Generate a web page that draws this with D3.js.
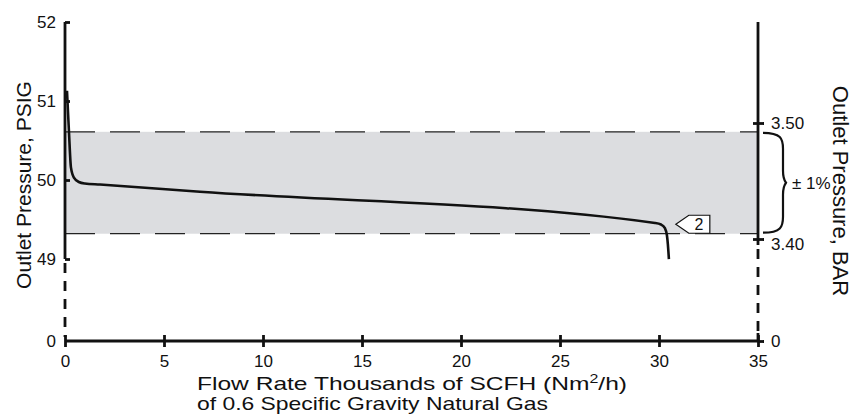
<!DOCTYPE html>
<html>
<head>
<meta charset="utf-8">
<script src="https://cdn.jsdelivr.net/npm/d3@7"></script>
<style>
  body { margin: 0; background: #fff; }
  text { font-family: "Liberation Sans", Arial, sans-serif; fill: #111; }
</style>
</head>
<body>
<script>
var w = 853;
var h = 419;

// curve
var flow = [0.10, 0.20, 0.30, 0.45, 0.7, 1.0, 1.77, 6.82, 29.8, 30.1, 30.3, 30.4, 30.45, 30.5];
var psi = [51.13, 50.61, 50.16, 50.03, 49.975, 49.956, 49.943, 49.852, 49.456, 49.437, 49.39, 49.30, 49.18, 48.97];

var xTicks = [0, 5, 10, 15, 20, 25, 30, 35];
var psiTicks = [0, 49, 50, 51, 52];
var barTicks = [0, 3.40, 3.50];
var band = [49.32, 50.61]; // +/- 1% band, psig

var svg = d3.select('body').append('svg').attr('width', w).attr('height', h);

var x = d3.scaleLinear().domain([0, 35]).range([65, 758]);
// broken axes: 0 sits below the dashed break
var y = d3.scaleLinear().domain([0, 49, 52]).range([341, 259, 22]);
var yBar = d3.scaleLinear().domain([0, 3.40, 3.50]).range([341, 239, 123]);

// grey band
svg.append('rect')
  .attr('x', x(0))
  .attr('y', y(band[1]))
  .attr('width', x(35) - x(0))
  .attr('height', y(band[0]) - y(band[1]))
  .attr('fill', '#dcdde0');

svg.selectAll('line.band')
  .data(band)
  .enter()
  .append('line')
  .attr('class', 'band')
  .attr('x1', x(0)).attr('x2', x(35))
  .attr('y1', function(d) { return y(d); })
  .attr('y2', function(d) { return y(d); })
  .attr('stroke', '#222')
  .attr('stroke-width', 1.3)
  .attr('stroke-dasharray', '30,15');

function axisLine(xp, y0, y1, dashed) {
  svg.append('line')
    .attr('x1', xp).attr('x2', xp)
    .attr('y1', y0).attr('y2', y1)
    .attr('stroke', '#111')
    .attr('stroke-width', 2.8)
    .attr('stroke-dasharray', dashed ? '10,8' : null);
}

// left axis
axisLine(x(0), y(52), y(49), false);
axisLine(x(0), y(49) + 4, y(0) - 4, true);
// right axis
axisLine(x(35), y(52), yBar(3.40) + 6, false);
axisLine(x(35), yBar(3.40) + 10, yBar(0) - 8, true);
axisLine(x(35), yBar(0) - 8, yBar(0), false);

// x axis
svg.append('line')
  .attr('x1', x(0)).attr('x2', x(35))
  .attr('y1', y(0)).attr('y2', y(0))
  .attr('stroke', '#111').attr('stroke-width', 2.8);

var xAxis = svg.append('g')
  .attr('transform', 'translate(0,' + y(0) + ')')
  .call(d3.axisBottom(x).tickValues(xTicks).tickFormat(d3.format('d')).tickSize(6).tickPadding(8));
xAxis.select('.domain').remove();
xAxis.selectAll('.tick line').attr('y1', -6).attr('stroke', '#111').attr('stroke-width', 2.8);
xAxis.selectAll('text').style('font-size', '17px').attr('fill', '#111');

var yAxis = svg.append('g')
  .attr('transform', 'translate(' + x(0) + ',0)')
  .call(d3.axisLeft(y).tickValues(psiTicks).tickFormat(d3.format('d')).tickSize(5).tickPadding(4));
yAxis.select('.domain').remove();
yAxis.selectAll('.tick line').attr('x2', 5).attr('stroke', '#111').attr('stroke-width', 2.8);
yAxis.selectAll('.tick').filter(function(d) { return d === 0; }).select('line').attr('x2', 0);
yAxis.selectAll('text').style('font-size', '17px').attr('fill', '#111');

var rAxis = svg.append('g')
  .attr('transform', 'translate(' + x(35) + ',0)')
  .call(d3.axisRight(yBar).tickValues(barTicks)
    .tickFormat(function(d) { return d === 0 ? '0' : d3.format('.2f')(d); })
    .tickSize(6).tickPadding(7));
rAxis.select('.domain').remove();
rAxis.selectAll('.tick line').attr('x1', -5).attr('stroke', '#111').attr('stroke-width', 2.8);
rAxis.selectAll('.tick').filter(function(d) { return d === 0; }).select('line').attr('x1', 0);
rAxis.selectAll('.tick').filter(function(d) { return d === 3.40; }).select('text').attr('dy', '0.6em');
rAxis.selectAll('text').style('font-size', '17px').attr('fill', '#111');

// the curve
var line = d3.line()
  .x(function(d, i) { return x(flow[i]); })
  .y(function(d, i) { return y(psi[i]); })
  .curve(d3.curveMonotoneX);

svg.append('path')
  .datum(flow)
  .attr('d', line)
  .attr('fill', 'none')
  .attr('stroke', '#111')
  .attr('stroke-width', 2.6);

// callout "2"
var cx = x(30.85), cy = y(49.44);
svg.append('path')
  .attr('d', 'M' + cx + ',' + cy + 'L' + (cx + 13) + ',' + (cy - 9) + 'H' + (cx + 34) +
    'V' + (cy + 9) + 'H' + (cx + 13) + 'Z')
  .attr('fill', '#fff')
  .attr('stroke', '#111')
  .attr('stroke-width', 1.2);
svg.append('text')
  .attr('x', cx + 23).attr('y', cy + 6)
  .attr('text-anchor', 'middle')
  .style('font-size', '16px')
  .text('2');

// brace for +/- 1%
var bx = x(35) + 5, bt = y(band[1]) + 1, bb = y(band[0]) - 1, bm = (bt + bb) / 2;
svg.append('path')
  .attr('d', 'M' + bx + ',' + bt +
    'C' + (bx + 18) + ',' + bt + ' ' + (bx + 20) + ',' + (bt + 6) + ' ' + (bx + 20) + ',' + (bt + 16) +
    'L' + (bx + 20) + ',' + (bm - 12) +
    'C' + (bx + 20) + ',' + (bm - 4) + ' ' + (bx + 23) + ',' + bm + ' ' + (bx + 23) + ',' + bm +
    'C' + (bx + 23) + ',' + bm + ' ' + (bx + 20) + ',' + (bm + 4) + ' ' + (bx + 20) + ',' + (bm + 12) +
    'L' + (bx + 20) + ',' + (bb - 16) +
    'C' + (bx + 20) + ',' + (bb - 6) + ' ' + (bx + 18) + ',' + bb + ' ' + bx + ',' + bb)
  .attr('fill', 'none')
  .attr('stroke', '#111')
  .attr('stroke-width', 2.2);
svg.append('text')
  .attr('x', bx + 29).attr('y', bm + 6)
  .style('font-size', '17px')
  .text('± 1%');

// axis titles
svg.append('text')
  .attr('transform', 'translate(31,185) rotate(-90)')
  .attr('text-anchor', 'middle')
  .style('font-size', '21px')
  .text('Outlet Pressure, PSIG');

svg.append('text')
  .attr('transform', 'translate(833,191) rotate(90)')
  .attr('text-anchor', 'middle')
  .style('font-size', '22px')
  .text('Outlet Pressure, BAR');

var xt = svg.append('text')
  .attr('x', 197).attr('y', 390)
  .attr('textLength', 430)
  .attr('lengthAdjust', 'spacingAndGlyphs')
  .style('font-size', '18.5px');
xt.append('tspan').text('Flow Rate Thousands of SCFH (Nm');
xt.append('tspan').attr('dy', -7).style('font-size', '12px').text('2');
xt.append('tspan').attr('dy', 7).text('/h)');
svg.append('text')
  .attr('x', 197).attr('y', 410)
  .attr('textLength', 351)
  .attr('lengthAdjust', 'spacingAndGlyphs')
  .style('font-size', '18.5px')
  .text('of 0.6 Specific Gravity Natural Gas');
</script>
</body>
</html>
